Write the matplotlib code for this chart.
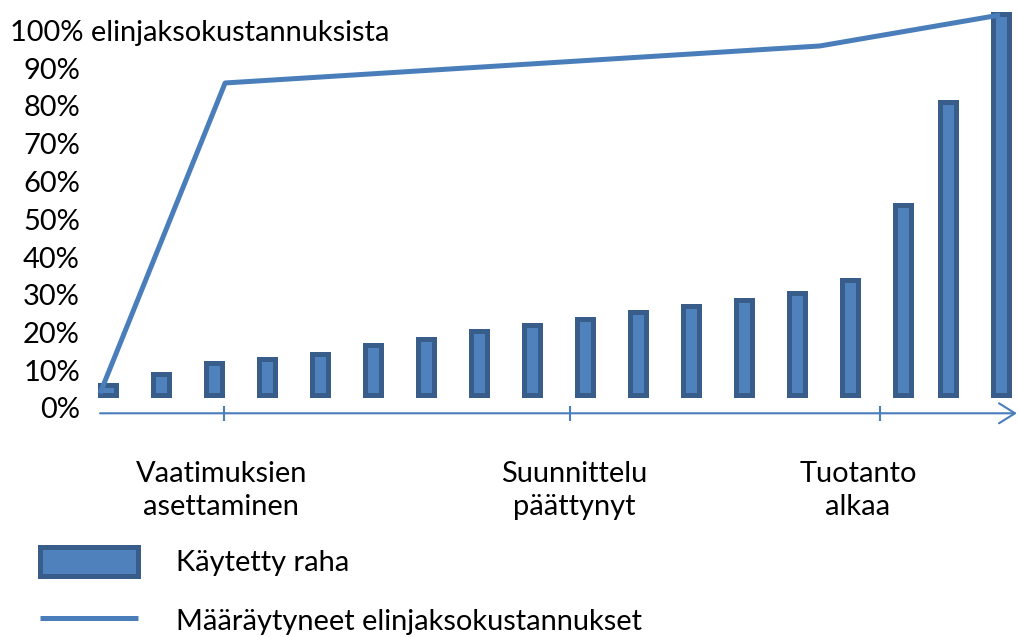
import matplotlib
matplotlib.use('Agg')
import matplotlib.pyplot as plt

# ---------------- data ----------------
time_points = [0, 1, 2, 3, 4, 5, 6, 7, 8, 9, 10, 11, 12, 13, 14, 15, 15.85, 16.85]
spent = [6.2, 8.9, 11.8, 12.9, 14.4, 16.6, 18.3, 20.3, 22.0, 23.7,
         25.4, 27.1, 28.7, 30.5, 33.8, 53.9, 81.1, 104.3]
spent_base = 3.5
committed_x = [-0.15, 2.21, 13.43, 16.83]
committed_y = [3.9, 86.1, 95.9, 104.1]
milestone_x = [2.19, 8.72, 14.57]
milestone_label_x = [2.14, 8.79, 14.15]
milestone_labels = ['Vaatimuksien\nasettaminen', 'Suunnittelu\npäättynyt', 'Tuotanto\nalkaa']
ytick_vals = [0, 10, 20, 30, 40, 50, 60, 70, 80, 90]
ytick_labels = ['0%', '10%', '20%', '30%', '40%', '50%', '60%', '70%', '80%', '90%']
header_value = 100
header_label = '100% elinjaksokustannuksista'
legend_labels = ['Käytetty raha', 'Määräytyneet elinjaksokustannukset']

# ---------------- style ----------------
FONT = 'Lato'
BAR_FACE = '#4F81BD'
BAR_EDGE = '#385D8A'
LINE_COL = '#4A7EBB'
W, H, DPI = 1018, 637, 100

fig = plt.figure(figsize=(W / DPI, H / DPI), dpi=DPI)
plt.rcParams['font.family'] = [FONT, 'DejaVu Sans']

# fit font size so header width matches reference (~382 px)
probe = fig.text(0, 0, header_label, fontsize=20, family=FONT)
r = fig.canvas.get_renderer()
FS = 20 * 382 / probe.get_window_extent(r).width
probe.remove()
FPX = FS * DPI / 72

px_per_pct = 3.775
y0_px = 408          # pixel row of 0 %
x0_px, pitch = 108, 53
left_px = 88
ax = fig.add_axes([left_px / W, 0, 1 - left_px / W, 1])
ax.set_ylim(-(H - y0_px) / px_per_pct, y0_px / px_per_pct)
ax.set_xlim((left_px - x0_px) / pitch, (W - x0_px) / pitch)
for s in ax.spines.values():
    s.set_visible(False)
ax.set_xticks([])
ax.set_yticks(ytick_vals)
ax.set_yticklabels(ytick_labels)
ax.tick_params(axis='y', length=0, pad=5.8, labelsize=FS)

heights = [v - spent_base for v in spent]
bars = ax.bar(time_points, heights, bottom=spent_base, width=0.292,
              color=BAR_FACE, edgecolor=BAR_EDGE, linewidth=3.6, zorder=2)
line, = ax.plot(committed_x, committed_y, color=LINE_COL, lw=3.6,
                solid_capstyle='butt', solid_joinstyle='round', zorder=3)

ax.annotate(header_label, xy=(10 / W, header_value),
            xycoords=('figure fraction', 'data'),
            ha='left', va='center_baseline', fontsize=FS)

# time axis with arrow
axis_y = -1.4
ax.annotate('', xy=(ax.get_xlim()[1] - 0.02, axis_y), xytext=(-0.15, axis_y),
            arrowprops=dict(arrowstyle='->,head_length=1.15,head_width=0.72',
                            color=LINE_COL, lw=1.5, shrinkA=0, shrinkB=0,
                            mutation_scale=10))
ax.vlines(milestone_x, -3.4, 0.5, color=LINE_COL, lw=1.5)
for xl, lab in zip(milestone_label_x, milestone_labels):
    ax.text(xl, -21.9, lab, ha='center', va='center', fontsize=FS,
            linespacing=1.35, multialignment='center')

leg = ax.legend([bars, line], legend_labels, loc='upper left',
                bbox_to_anchor=(40 / W, 1 - 547 / H), bbox_transform=fig.transFigure,
                frameon=False, borderpad=0, borderaxespad=0, fontsize=FS,
                handlelength=98 / FPX, handleheight=34 / FPX,
                handletextpad=38 / FPX, labelspacing=0.55 + 13 / FPX)

fig.savefig('out.png', dpi=DPI)
